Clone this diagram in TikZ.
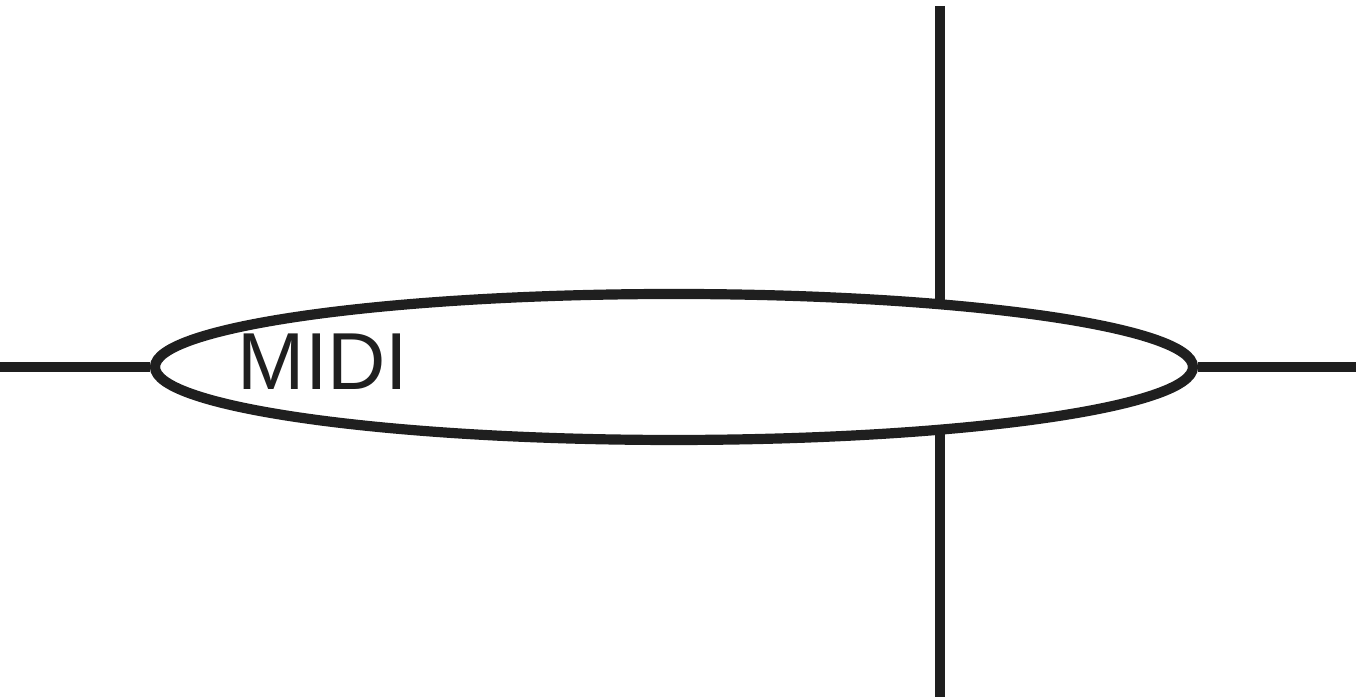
\documentclass[tikz,border=0pt]{standalone}
\usepackage{fontspec}
\setmainfont{Liberation Sans}
\usetikzlibrary{shapes.geometric,positioning}

\begin{document}
\begin{tikzpicture}[
    bus/.style={line width=2.9pt, draw=black!88},
    port/.style={ellipse, line width=2.9pt, draw=black!88, minimum width=10.38cm, minimum height=1.46cm, inner sep=0pt},
    tag/.style={font=\fontsize{23}{23}\selectfont, text=black!88, inner sep=0pt}
]
    \useasboundingbox (0,0) rectangle (13.56,6.97);

    \node[port] (midi) at (6.74,3.30) {};
    \node[tag] (label) at (3.23,3.35) {MIDI};

    \coordinate (inleft) at (0,3.30);
    \coordinate (outright) at (13.56,3.30);
    \coordinate (thrutop) at (9.40,6.91);
    \coordinate (thrubot) at (9.40,0);

    \draw[bus] (inleft) -- (midi.west);
    \draw[bus] (midi.east) -- (outright);
    \draw[bus] (thrutop) -- (thrutop |- midi.12.9);
    \draw[bus] (thrubot) -- (thrubot |- midi.-12.9);
\end{tikzpicture}
\end{document}
